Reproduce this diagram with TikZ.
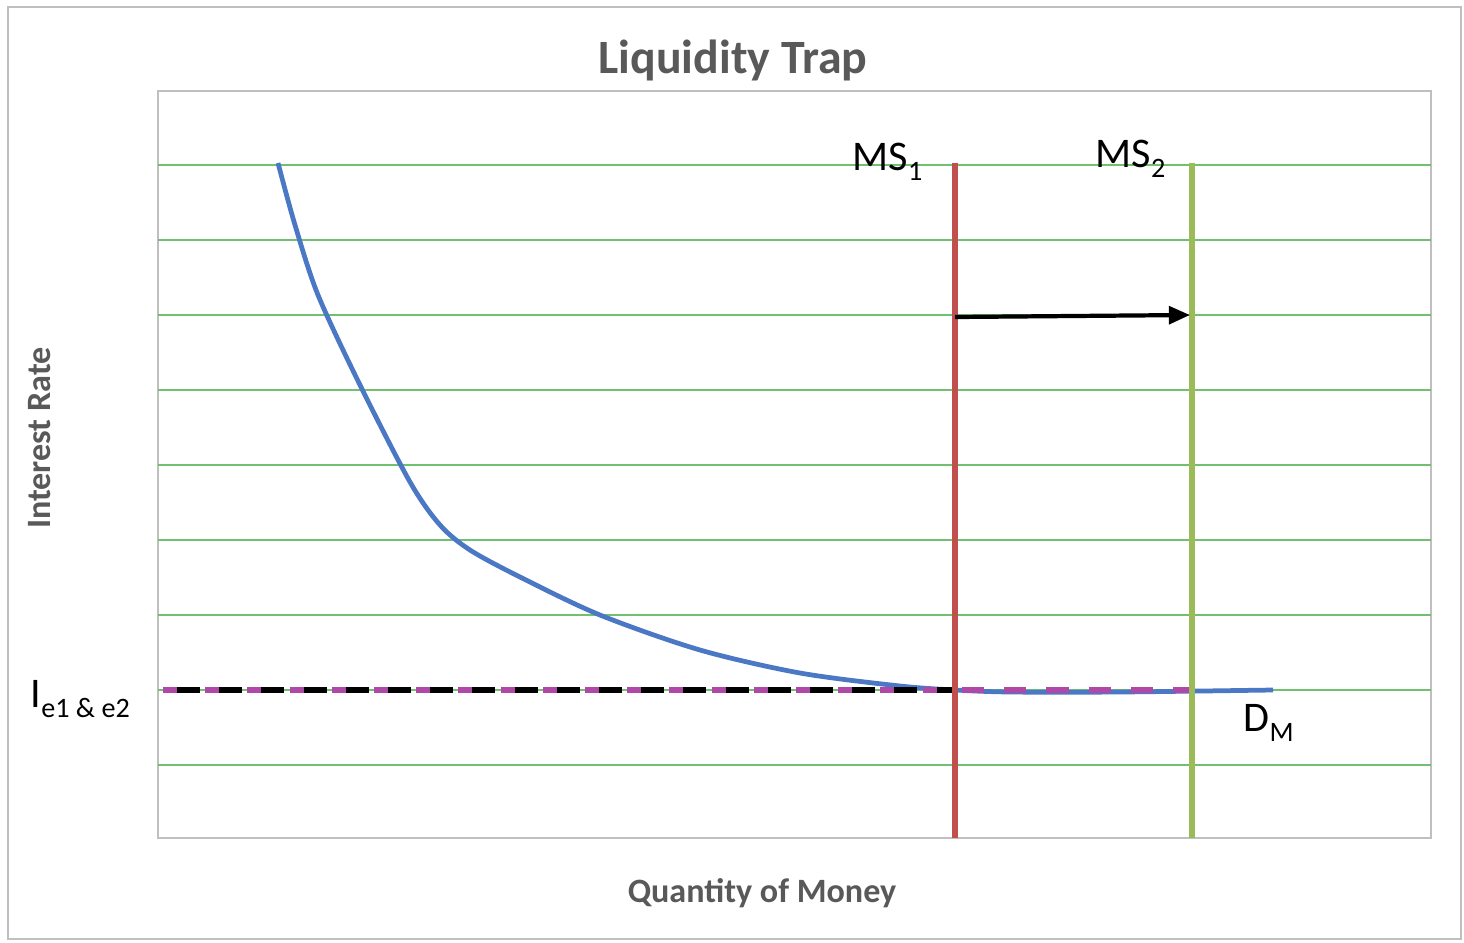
\documentclass[tikz,border=0pt]{standalone}
\usepackage{fontspec}
\setmainfont{Carlito}
\usetikzlibrary{arrows.meta}
\definecolor{grid}{RGB}{112,192,112}
\definecolor{msone}{RGB}{192,80,77}
\definecolor{mstwo}{RGB}{155,187,89}
\definecolor{dmblue}{RGB}{74,120,196}
\definecolor{mag}{RGB}{176,72,168}
\definecolor{frame}{RGB}{191,191,191}
\definecolor{txtgray}{RGB}{89,89,89}
\newcommand{\lowsub}[1]{\raisebox{-0.5ex}{\fontsize{8}{9}\selectfont #1}}
\tikzset{
  gridline/.style={draw=grid, line width=0.6pt},
  framebox/.style={draw=frame, line width=0.6pt},
  lbl/.style={font=\fontsize{12}{14}\selectfont, inner sep=0pt, text=black},
  axislbl/.style={font=\fontsize{9.7}{12}\selectfont\bfseries, text=txtgray, inner sep=0pt},
}
\begin{document}
\begin{tikzpicture}[x=0.01cm,y=-0.01cm]
\useasboundingbox (0,0) rectangle (1464,942);
\fill[white] (0,0) rectangle (1464,942);
% frames
\draw[framebox] (8,7) rectangle (1461,939);
\draw[framebox] (158,91) rectangle (1431,838);
% gridlines
\foreach \y in {165,240,315,390,465,540,615,690,765}
  \draw[gridline] (158,\y) -- (1431,\y);
% coordinates
\coordinate (ms1top) at (955,163);
\coordinate (ms1bot) at (955,838);
\coordinate (ms2top) at (1192,163);
\coordinate (ms2bot) at (1192,838);
\coordinate (eqleft) at (163,690);
\coordinate (eq1) at (955,690);
\coordinate (eq2) at (1192,690);
\coordinate (arrs) at (955,317);
\coordinate (arre) at (1190,315);
% demand curve
\draw[dmblue, line width=1.35pt, line join=round]
  plot[smooth, tension=0.5] coordinates {(278,163) (295,225) (318,295) (360,385) (410,482) (440,525) (470,550) (520,577) (600,615) (700,650) (800,673) (900,686) (955,690) (1010,692) (1120,692) (1273,690)};
% dashed equilibrium line
\draw[mag, line width=1.6pt, dash pattern=on 4pt off 8pt] (eqleft) -- (eq1);
\draw[black, line width=1.6pt, dash pattern=on 6.5pt off 5.5pt, dash phase=-4pt] (eqleft) -- (eq1);
\draw[mag, line width=1.6pt, dash pattern=on 6.3pt off 5.7pt, dash phase=-2pt] (eq1) -- (eq2);
% money supply lines
\draw[msone, line width=1.5pt] (ms1top) -- (ms1bot);
\draw[mstwo, line width=1.5pt] (ms2top) -- (ms2bot);
% shift arrow
\draw[black, line width=1.2pt, -{Triangle[length=6pt,width=5pt]}] (arrs) -- (arre);
% labels
\node[font=\fontsize{13.6}{16}\selectfont\bfseries, text=txtgray, inner sep=0pt] (title) at (733,60) {Liquidity Trap};
\node[lbl, anchor=base west] (ms1lbl) at (852,170) {MS\lowsub{1}};
\node[lbl, anchor=base west] (ms2lbl) at (1095,167) {MS\lowsub{2}};
\node[lbl, anchor=base west] (dmlbl) at (1243,731) {D\lowsub{M}};
\node[lbl, anchor=base west] (ielbl) at (30,707) {I\lowsub{e1 \& e2}};
\node[axislbl] (xlbl) at (762,893) {Quantity of Money};
\node[axislbl, rotate=90] (ylbl) at (40,438) {Interest Rate};
\end{tikzpicture}
\end{document}
